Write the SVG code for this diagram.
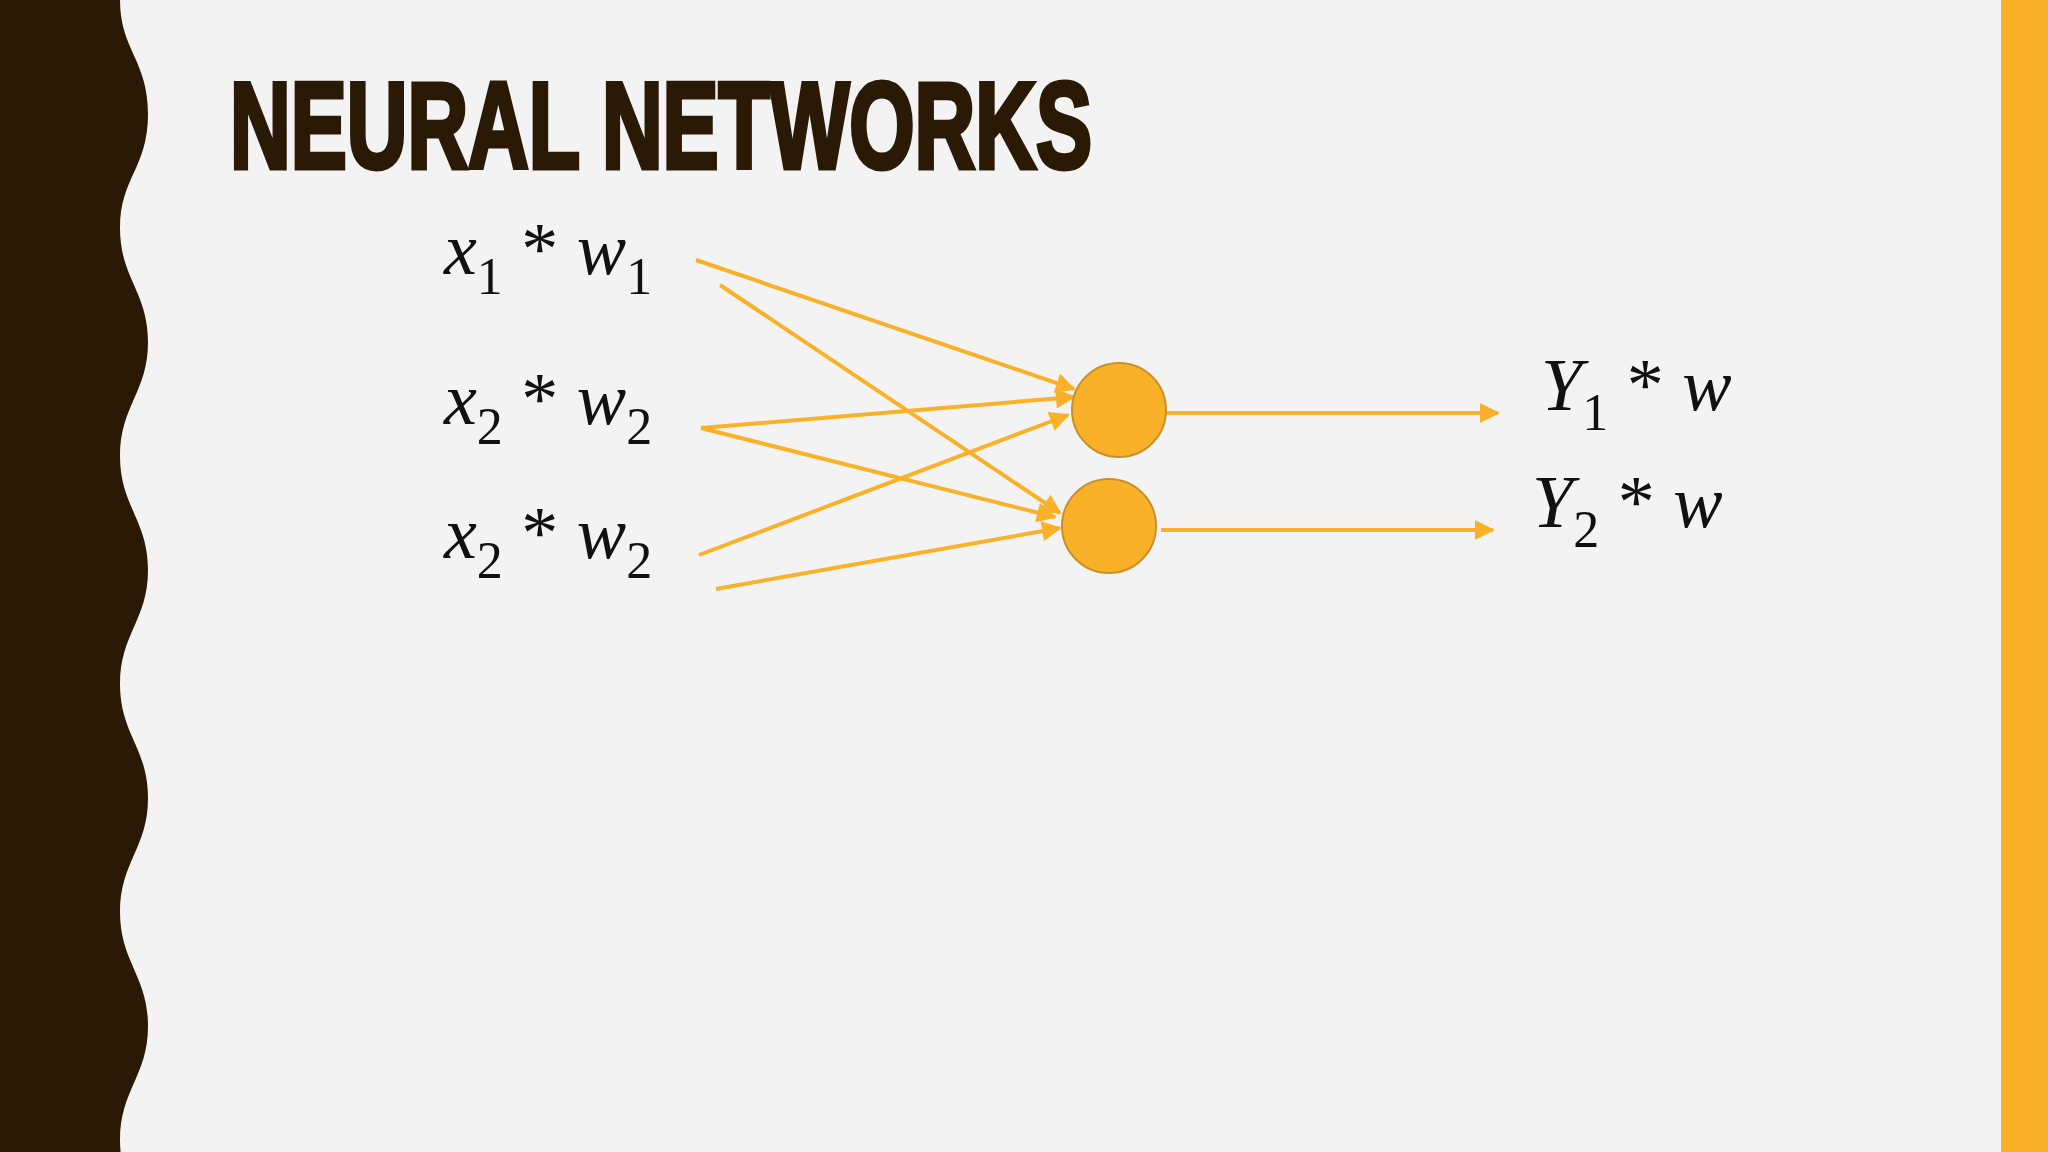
<svg xmlns="http://www.w3.org/2000/svg" width="2048" height="1152" viewBox="0 0 2048 1152">
<defs>
<style>
.c{stroke:#F8B128;stroke-width:4;fill:none;marker-end:url(#ah)}
.m{font-family:"Liberation Serif",serif;font-style:italic;font-size:74px;fill:#111}
.s{font-family:"Liberation Serif",serif;font-size:52px;fill:#111;font-style:normal}
.n{fill:#F8B128;stroke:#C9902A;stroke-width:2}
</style>
<marker id="ah" viewBox="0 0 10 10" refX="9" refY="5" markerWidth="7" markerHeight="5" orient="auto" markerUnits="strokeWidth"><path d="M0,0 L10,5 L0,10 Z" fill="#F8B128"/></marker>
</defs>
<rect width="2048" height="1152" fill="#F3F3F4"/>
<path d="M0 0 L120 0 C120 50 148 60 148 114 S120 178 120 228 S148 292 148 342 S120 406 120 456 S148 520 148 570 S120 634 120 684 S148 748 148 798 S120 862 120 912 S148 976 148 1026 S120 1090 120 1140 S148 1204 148 1254 L0 1254 Z" fill="#2A1A05"/>
<rect x="2001" y="0" width="47" height="1152" fill="#F8B128"/>
<text x="230" y="168" font-family="'Liberation Sans Narrow','Liberation Sans',sans-serif" font-weight="bold" font-size="122" fill="#2A1A05" stroke="#2A1A05" stroke-width="5" textLength="862" lengthAdjust="spacingAndGlyphs">NEURAL NETWORKS</text>
<g id="connectors">
<line class="c" x1="696" y1="260" x2="1074" y2="389"/>
<line class="c" x1="720" y1="285" x2="1060" y2="513"/>
<line class="c" x1="701" y1="428" x2="1074" y2="397"/>
<line class="c" x1="701" y1="428" x2="1055" y2="517"/>
<line class="c" x1="699" y1="555" x2="1068" y2="415"/>
<line class="c" x1="716" y1="589" x2="1060" y2="528"/>
<line class="c" x1="1166" y1="413" x2="1498" y2="413"/>
<line class="c" x1="1161" y1="530" x2="1493" y2="530"/>
</g>
<g id="in1"><text class="m" x="444" y="274">x<tspan class="s" dy="20">1</tspan><tspan dy="-20" font-style="normal"> * </tspan>w<tspan class="s" dy="20">1</tspan></text></g>
<g id="in2"><text class="m" x="444" y="424">x<tspan class="s" dy="20">2</tspan><tspan dy="-20" font-style="normal"> * </tspan>w<tspan class="s" dy="20">2</tspan></text></g>
<g id="in3"><text class="m" x="444" y="558">x<tspan class="s" dy="20">2</tspan><tspan dy="-20" font-style="normal"> * </tspan>w<tspan class="s" dy="20">2</tspan></text></g>
<g id="n1"><circle class="n" cx="1119" cy="410" r="47"/></g>
<g id="n2"><circle class="n" cx="1109" cy="526" r="47"/></g>
<g id="out1"><text class="m" x="1541" y="410">Y<tspan class="s" dy="20">1</tspan><tspan dy="-20" font-style="normal"> * </tspan>w</text></g>
<g id="out2"><text class="m" x="1532" y="527">Y<tspan class="s" dy="20">2</tspan><tspan dy="-20" font-style="normal"> * </tspan>w</text></g>
</svg>
